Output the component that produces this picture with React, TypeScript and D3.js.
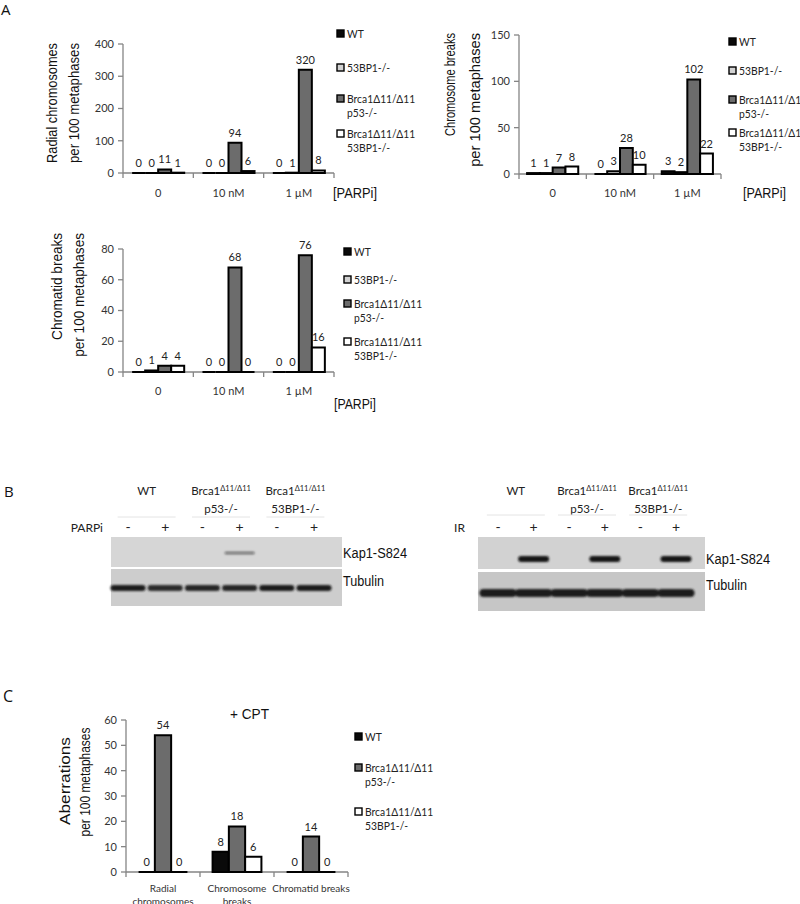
import React, { useLayoutEffect, useRef } from "react";
import * as d3 from "d3";

const SANS = "'Liberation Sans', Arial, sans-serif";
const CAL = "Lato, 'Open Sans', sans-serif";

// ---------- data ----------
const genotypes4 = ["WT", "53BP1-/-", "Brca1Δ11/Δ11|p53-/-", "Brca1Δ11/Δ11|53BP1-/-"];
const colors4 = ["#0a0a0a", "#d2d2d2", "#6c6c6c", "#ffffff"];
const genotypes3 = ["WT", "Brca1Δ11/Δ11|p53-/-", "Brca1Δ11/Δ11|53BP1-/-"];
const colors3 = ["#0a0a0a", "#6c6c6c", "#ffffff"];

const doses = ["0", "10 nM", "1 µM"];
const radialValues = [
  [0, 0, 11, 1],
  [0, 0, 94, 6],
  [0, 1, 320, 8],
];
const radialTicks = [0, 100, 200, 300, 400];

const chromosomeBreakValues = [
  [1, 1, 7, 8],
  [0, 3, 28, 10],
  [3, 2, 102, 22],
];
const chromosomeBreakTicks = [0, 50, 100, 150];

const chromatidValues = [
  [0, 1, 4, 4],
  [0, 0, 68, 0],
  [0, 0, 76, 16],
];
const chromatidTicks = [0, 20, 40, 60, 80];

const cptCategories = [["Radial", "chromosomes"], ["Chromosome", "breaks"], ["Chromatid breaks"]];
const cptValues = [
  [0, 54, 0],
  [8, 18, 6],
  [0, 14, 0],
];
const cptTicks = [0, 10, 20, 30, 40, 50, 60];

const blotGroups = [["WT", "", ""], ["Brca1", "Δ11/Δ11", "p53-/-"], ["Brca1", "Δ11/Δ11", "53BP1-/-"]];
const laneSigns = ["-", "+", "-", "+", "-", "+"];
const parpKap1 = [0, 0, 0, 0.55, 0, 0];
const parpTubulin = [1, 0.92, 0.95, 0.95, 1, 1];
const irKap1 = [0, 1, 0, 1, 0, 1];
const irTubulin = [1, 1, 1, 1, 1, 1];

// ---------- components ----------
type ChartProps = {
  left: number; right: number; top: number; bottom: number;
  yMax: number; ticks: number[]; cats: (string | string[])[]; values: number[][];
  colors: string[]; groupFrac: number; catLabelY: number; catFont?: number;
};

function BarChart(p: ChartProps) {
  const x0 = d3.scaleBand<number>().domain(d3.range(p.cats.length)).range([p.left, p.right]).padding(0);
  const n = p.values[0].length;
  const gw = x0.bandwidth() * p.groupFrac;
  const x1 = d3.scaleBand<number>().domain(d3.range(n)).range([0, gw]).padding(0);
  const off = (x0.bandwidth() - gw) / 2;
  const y = d3.scaleLinear().domain([0, p.yMax]).range([p.bottom, p.top]);
  const axisC = "#858585";
  const bounds = d3.range(p.cats.length + 1).map((i) => (i < p.cats.length ? (x0(i) as number) : p.right));
  return (
    <g>
      <line x1={p.left} x2={p.left} y1={y(p.yMax)} y2={p.bottom} stroke={axisC} strokeWidth={1.3} />
      {p.ticks.map((t) => (
        <g key={t}>
          <line x1={p.left - 5} x2={p.left} y1={y(t)} y2={y(t)} stroke={axisC} strokeWidth={1.3} />
          <text x={p.left - 9} y={y(t)} dy="0.35em" textAnchor="end" fontFamily={CAL} fontSize={11} fill="#333">
            {t}
          </text>
        </g>
      ))}
      <line x1={p.left} x2={p.right} y1={p.bottom} y2={p.bottom} stroke={axisC} strokeWidth={1.3} />
      {bounds.map((bx, i) => (
        <line key={i} x1={bx} x2={bx} y1={p.bottom} y2={p.bottom + 5} stroke={axisC} strokeWidth={1.3} />
      ))}
      {p.cats.map((c, i) => {
        const cx = (x0(i) as number) + x0.bandwidth() / 2;
        const lines = Array.isArray(c) ? c : [c];
        return (
          <text key={i} x={cx} y={p.catLabelY} textAnchor="middle" fontFamily={CAL} fontSize={p.catFont ?? 11} fill="#333">
            {lines.map((l, j) => (
              <tspan key={j} x={cx} dy={j === 0 ? 0 : 13}>
                {l}
              </tspan>
            ))}
          </text>
        );
      })}
      {p.values.map((row, i) =>
        row.map((v, s) => {
          const bx = (x0(i) as number) + off + (x1(s) as number);
          const w = x1.bandwidth();
          const yt = y(v);
          const d = `M${bx},${p.bottom}L${bx},${yt}L${bx + w},${yt}L${bx + w},${p.bottom}Z`;
          return (
            <g key={`${i}-${s}`}>
              <path d={d} fill={p.colors[s]} stroke="#000" strokeWidth={2} strokeLinejoin="miter" />
              <text x={bx + w / 2} y={yt - 6} textAnchor="middle" fontFamily={CAL} fontSize={11} fill="#222">
                {v}
              </text>
            </g>
          );
        })
      )}
    </g>
  );
}

function Legend({ x, ys, labels, colors }: { x: number; ys: number[]; labels: string[]; colors: string[] }) {
  return (
    <g>
      {labels.map((lab, i) => {
        const lines = lab.split("|");
        return (
          <g key={i}>
            <rect x={x} y={ys[i] - 4} width={7} height={7} fill={colors[i]} stroke="#000" strokeWidth={1.4} />
            {lines.map((l, j) => (
              <g key={j} transform={`translate(${x + 10},${ys[i] + j * 14}) scale(0.86,1)`}>
                <text x={0} y={0} dy="0.35em" fontFamily={CAL} fontSize={12} fill="#222">
                  {l}
                </text>
              </g>
            ))}
          </g>
        );
      })}
    </g>
  );
}

function YTitle({ x, y, text, len, anchor }: { x: number; y: number; text: string; len: number; anchor: string }) {
  const ref = useRef<SVGTextElement>(null);
  useLayoutEffect(() => {
    const el = ref.current;
    if (!el) return;
    const w = el.getComputedTextLength();
    if (w > 0) el.setAttribute("transform", `scale(${len / w},1)`);
  }, [len, text]);
  return (
    <g transform={`translate(${x},${y}) rotate(-90)`}>
      <text ref={ref} x={0} y={5} textAnchor={anchor} fontFamily={SANS} fontSize={15} fill="#111">
        {text}
      </text>
    </g>
  );
}

type BlotProps = {
  left: number; right: number; laneL: number; laneR: number;
  upTop: number; upBot: number; loTop: number; loBot: number;
  kap: number[]; tub: number[]; kapY: number; kapH: number; kapW: number; tubY: number; tubH: number; tubW: number;
  treat: string; treatX: number; headY: number; underY: number; upBg: string; loBg: string;
};

function Blot(b: BlotProps) {
  const lane = d3.scalePoint<number>().domain(d3.range(laneSigns.length)).range([b.laneL, b.laneR]);
  return (
    <g>
      {blotGroups.map((g, i) => {
        const cx = ((lane(i * 2) as number) + (lane(i * 2 + 1) as number)) / 2;
        return (
          <g key={i}>
            <text x={cx} y={b.headY} textAnchor="middle" fontFamily={CAL} fontSize={11.5} fill="#222">
              {g[0]}
              {g[1] && (
                <tspan fontSize={7.5} dy={-4}>
                  {g[1]}
                </tspan>
              )}
            </text>
            {g[2] && (
              <text x={cx} y={b.headY + 18} textAnchor="middle" fontFamily={CAL} fontSize={11.5} fill="#222">
                {g[2]}
              </text>
            )}
            <line x1={cx - 29} x2={cx + 29} y1={b.underY} y2={b.underY} stroke="#e4e4e4" strokeWidth={1} />
          </g>
        );
      })}
      <text x={b.treatX} y={b.headY + 37} textAnchor="end" fontFamily={CAL} fontSize={12} fill="#222">
        {b.treat}
      </text>
      {laneSigns.map((s, i) => (
        <text key={i} x={lane(i)} y={b.headY + 37} textAnchor="middle" fontFamily={CAL} fontSize={14} fill="#222">
          {s}
        </text>
      ))}
      <rect x={b.left} y={b.upTop} width={b.right - b.left} height={b.upBot - b.upTop} fill={b.upBg} />
      <rect x={b.left} y={b.loTop} width={b.right - b.left} height={b.loBot - b.loTop} fill={b.loBg} />
      <g filter="url(#blur)">
        {b.kap.map((v, i) =>
          v > 0 ? (
            <rect key={i} x={(lane(i) as number) - b.kapW / 2} y={b.kapY - b.kapH / 2} width={b.kapW} height={b.kapH}
              rx={b.kapH / 2} fill="#161616" opacity={v} />
          ) : null
        )}
        {b.tub.map((v, i) => (
          <rect key={i} x={(lane(i) as number) - b.tubW / 2} y={b.tubY - b.tubH / 2} width={b.tubW} height={b.tubH}
            rx={b.tubH / 2} fill="#1c1c1c" opacity={v} />
        ))}
      </g>
      <text x={b.right + 1} y={b.kapY + 5} fontFamily={SANS} fontSize={14} fill="#111" textLength={64} lengthAdjust="spacingAndGlyphs">
        Kap1-S824
      </text>
      <text x={b.right + 1} y={(b.loTop + b.loBot) / 2 - 2} fontFamily={SANS} fontSize={14} fill="#111" textLength={41} lengthAdjust="spacingAndGlyphs">
        Tubulin
      </text>
    </g>
  );
}

export default function App() {
  return (
    <svg width={800} height={904} style={{ position: "absolute", left: 0, top: 0, background: "#fff" }}>
      <defs>
        <filter id="blur" x="-20%" y="-100%" width="140%" height="300%">
          <feGaussianBlur stdDeviation={1.1} />
        </filter>
      </defs>
      <rect width={800} height={904} fill="#fff" />

      <text x={1} y={15} fontFamily="'Open Sans', sans-serif" fontSize={15} fill="#111">A</text>
      <text x={4} y={497} fontFamily="'Open Sans', sans-serif" fontSize={15} fill="#111">B</text>
      <text x={3} y={702} fontFamily="'Open Sans', sans-serif" fontSize={16} fill="#111">C</text>

      {/* Chart 1: radial chromosomes */}
      <YTitle x={52} y={43} text="Radial chromosomes" len={120} anchor="end" />
      <YTitle x={74} y={43} text="per 100 metaphases" len={120} anchor="end" />
      <BarChart left={123} right={334} top={44} bottom={173} yMax={400} ticks={radialTicks} cats={doses}
        values={radialValues} colors={colors4} groupFrac={0.74} catLabelY={197} />
      <text x={333} y={198} fontFamily={SANS} fontSize={15} fill="#111" textLength={44} lengthAdjust="spacingAndGlyphs">[PARPi]</text>
      <Legend x={337} ys={[34, 68, 99, 134]} labels={genotypes4} colors={colors4} />

      {/* Chart 2: chromosome breaks */}
      <YTitle x={450} y={33} text="Chromosome breaks" len={103} anchor="end" />
      <YTitle x={475} y={33} text="per 100 metaphases" len={134} anchor="end" />
      <BarChart left={519} right={721} top={35} bottom={174} yMax={150} ticks={chromosomeBreakTicks} cats={doses}
        values={chromosomeBreakValues} colors={colors4} groupFrac={0.76} catLabelY={197} />
      <text x={743} y={198} fontFamily={SANS} fontSize={15} fill="#111" textLength={43} lengthAdjust="spacingAndGlyphs">[PARPi]</text>
      <Legend x={729} ys={[42, 71, 100, 133]} labels={genotypes4} colors={colors4} />

      {/* Chart 3: chromatid breaks */}
      <YTitle x={57} y={233} text="Chromatid breaks" len={107} anchor="end" />
      <YTitle x={79} y={233} text="per 100 metaphases" len={124} anchor="end" />
      <BarChart left={123} right={334} top={249} bottom={372} yMax={80} ticks={chromatidTicks} cats={doses}
        values={chromatidValues} colors={colors4} groupFrac={0.74} catLabelY={395} />
      <text x={334} y={409} fontFamily={SANS} fontSize={15} fill="#111" textLength={42} lengthAdjust="spacingAndGlyphs">[PARPi]</text>
      <Legend x={344} ys={[252, 280, 304, 342]} labels={genotypes4} colors={colors4} />

      {/* Panel B blots */}
      <Blot left={111} right={342} laneL={128} laneR={314} upTop={537} upBot={567} loTop={569} loBot={606}
        kap={parpKap1} tub={parpTubulin} kapY={553} kapH={2.5} kapW={30} tubY={588} tubH={6} tubW={35}
        treat="PARPi" treatX={103} headY={495} underY={517} upBg="#d6d6d6" loBg="#cdcdcd" />
      <Blot left={478} right={705} laneL={498} laneR={676} upTop={537} upBot={569} loTop={572} loBot={611}
        kap={irKap1} tub={irTubulin} kapY={559} kapH={6} kapW={31} tubY={593} tubH={8} tubW={37}
        treat="IR" treatX={465} headY={495} underY={515} upBg="#d2d2d2" loBg="#c6c6c6" />

      {/* Panel C */}
      <text x={230} y={719} fontFamily={SANS} fontSize={15} fill="#111" textLength={39} lengthAdjust="spacingAndGlyphs">+ CPT</text>
      <YTitle x={65} y={781} text="Aberrations" len={88} anchor="middle" />
      <YTitle x={85} y={782} text="per 100 metaphases" len={109} anchor="middle" />
      <BarChart left={126} right={348} top={720} bottom={872} yMax={60} ticks={cptTicks} cats={cptCategories}
        values={cptValues} colors={colors3} groupFrac={0.66} catLabelY={892} catFont={10} />
      <Legend x={355} ys={[737, 768, 812]} labels={genotypes3} colors={colors3} />
    </svg>
  );
}
